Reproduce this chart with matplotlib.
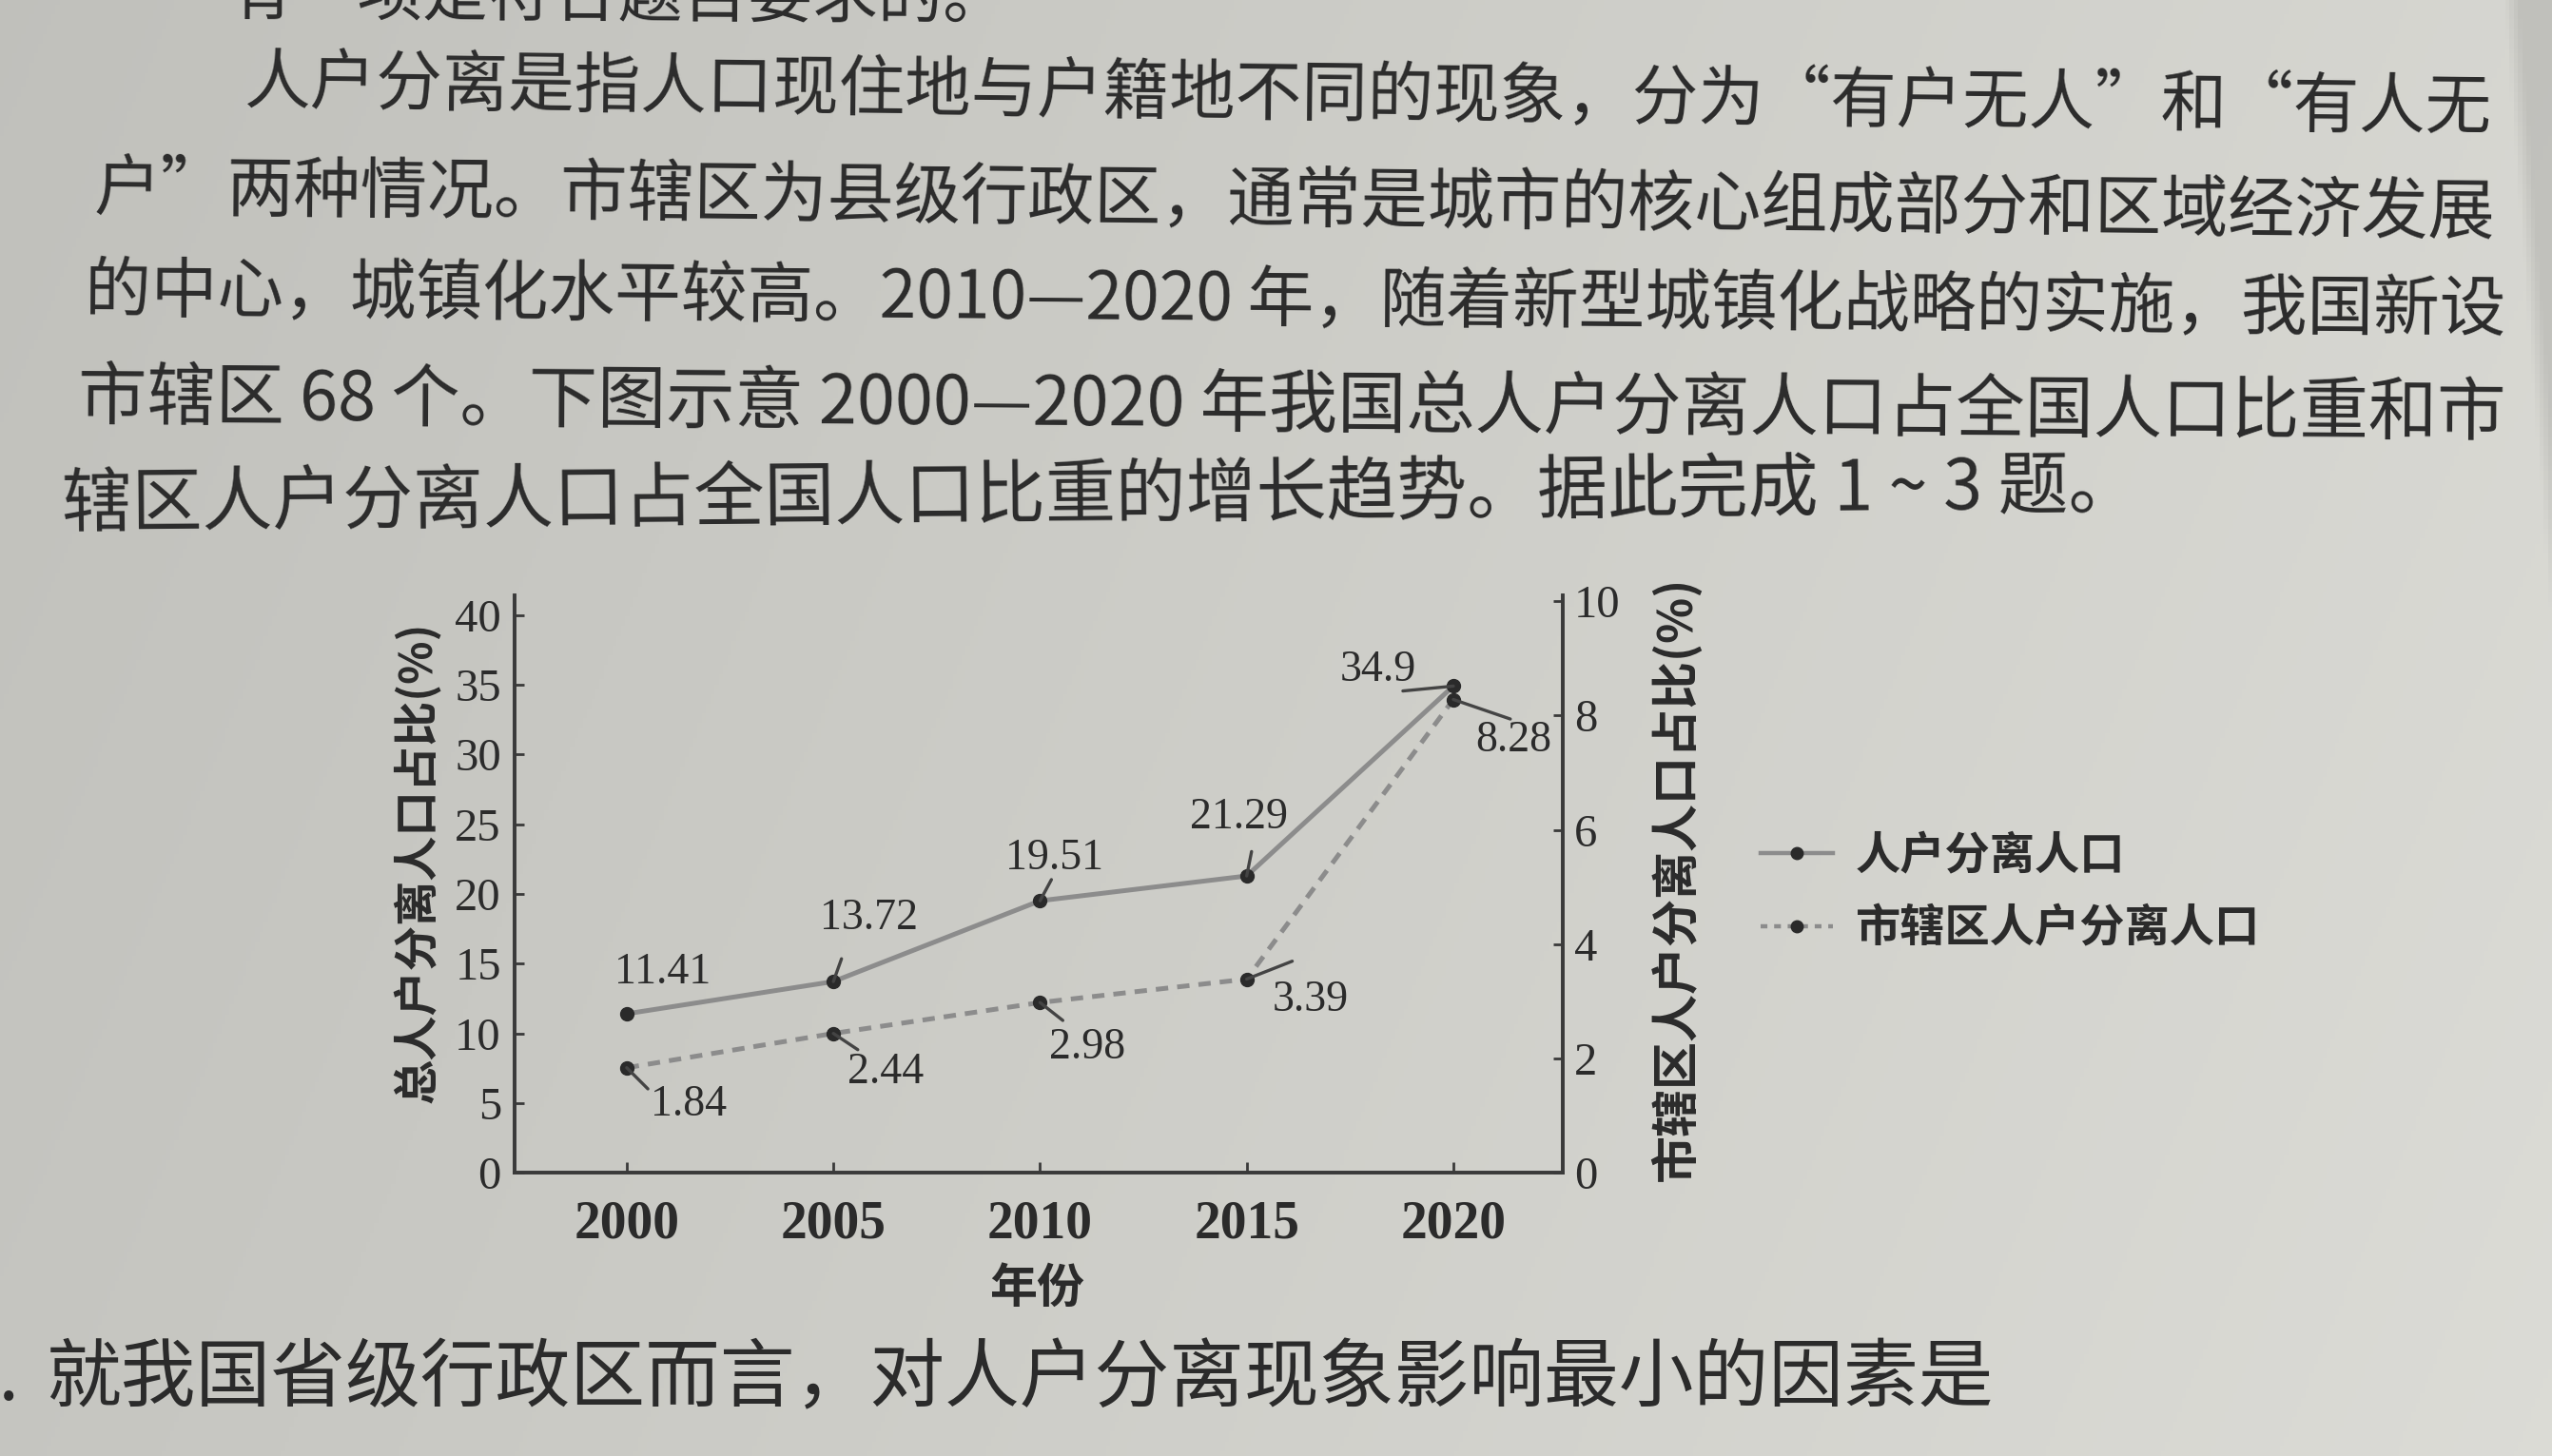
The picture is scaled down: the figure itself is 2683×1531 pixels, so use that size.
import matplotlib
matplotlib.use("Agg")
import matplotlib.pyplot as plt
import numpy as np
from matplotlib.lines import Line2D
from matplotlib.font_manager import FontProperties

# ---------------- data ----------------
years = [2000, 2005, 2010, 2015, 2020]
total_share = [11.41, 13.72, 19.51, 21.29, 34.9]
district_share = [1.84, 2.44, 2.98, 3.39, 8.28]
left_ticks = [0, 5, 10, 15, 20, 25, 30, 35, 40]
right_ticks = [0, 2, 4, 6, 8, 10]
series_names = ["人户分离人口", "市辖区人户分离人口"]
ylabel_left = "总人户分离人口占比(%)"
ylabel_right = "市辖区人户分离人口占比(%)"
xlabel_text = "年份"

header_line = "有一项是符合题目要求的。"
paragraph_lines = [
    "人户分离是指人口现住地与户籍地不同的现象，分为“有户无人”和“有人无",
    "户”两种情况。市辖区为县级行政区，通常是城市的核心组成部分和区域经济发展",
    "的中心，城镇化水平较高。2010—2020 年，随着新型城镇化战略的实施，我国新设",
    "市辖区 68 个。下图示意 2000—2020 年我国总人户分离人口占全国人口比重和市",
    "辖区人户分离人口占全国人口比重的增长趋势。据此完成 1 ~ 3 题。",
]
question_num = "2."
question_text = "就我国省级行政区而言，对人户分离现象影响最小的因素是"

# ---------------- layout helpers (reference displayed at 1568x895) ----------------
W, H = 2683, 1531
DW, DH = 1568.0, 895.0
S = W / DW
PT = S * 72 / 100.0  # displayed px -> points


def D(x, y):
    return (x / DW, 1 - y / DH)


CJK = ["Noto Sans CJK SC", "DejaVu Sans"]
SERIF = ["Liberation Serif", "DejaVu Serif"]
TXT = "#2b2b2b"

fig = plt.figure(figsize=(W / 100, H / 100), dpi=100)

# paper background
bg = fig.add_axes([0, 0, 1, 1], zorder=-10)
gx = np.linspace(0, 1, 600)
gy = np.linspace(0, 1, 300)
GX, GY = np.meshgrid(gx, gy)            # GY = 0 at top
v = 0.755 + 0.085 * GX + 0.02 * GY
edge = 0.982 + 0.018 * (GY / 0.42)      # shadowed page edge, top-right corner
shade = np.clip((GX - edge) / 0.006, 0, 1) * (GY < 0.45)
v = v - 0.085 * shade
img = np.dstack([v, v, v * 0.975])
bg.imshow(img, aspect="auto", extent=[0, 1, 0, 1], origin="upper")
bg.set_axis_off()

renderer = fig.canvas.get_renderer()


def fit_text(x0, y0, s, width_disp, size, rotation=0.0, ha="left", **kw):
    t = fig.text(*D(x0, y0), s, fontsize=size, ha=ha, va="center",
                 family=CJK, color=TXT, **kw)
    w = t.get_window_extent(renderer).width
    t.set_fontsize(size * width_disp * S / w)
    t.set_rotation(rotation)
    t.set_rotation_mode("anchor")
    return t


# text above chart
fit_text(140, -2, header_line, 480, 45, rotation=-0.3)
para_geom = [  # (x_start, y_center, width, rotation)
    (150, 52, 1380, -0.66),
    (58, 117, 1477, -0.58),
    (52, 180, 1488, -0.46),
    (48, 245, 1492, -0.38),
    (38, 311, 1277, 0.5),
]
for s, (x0, y0, w, r) in zip(paragraph_lines, para_geom):
    fit_text(x0, y0, s, w, 45, rotation=r)

# question line
fit_text(28, 848, question_text, 1197, 55)
fig.text(*D(12, 848), question_num, fontsize=55, ha="right", va="center",
         family=CJK, color=TXT)

# ---------------- chart ----------------
ax_l, ax_r, ax_t, ax_b = 316, 960, 366, 721
ax = fig.add_axes([ax_l / DW, 1 - ax_b / DH, (ax_r - ax_l) / DW, (ax_b - ax_t) / DH])
ax.patch.set_alpha(0)
ax2 = ax.twinx()

LINE_C = "#8c8c8c"
MARK_C = "#2a2a2a"
SPINE_C = "#3a3a3a"

ax.plot(years, total_share, color=LINE_C, lw=3.6, marker="o", ms=10,
        mfc=MARK_C, mec=MARK_C, solid_capstyle="round", zorder=3)
ax2.plot(years, district_share, color=LINE_C, lw=3.6, ls=(0, (2.6, 1.9)),
         marker="o", ms=10, mfc=MARK_C, mec=MARK_C, zorder=3)

ax.set_xlim(1997.28, 2022.64)
ax.set_ylim(0, 41.4)
ax2.set_ylim(0, 10.1)
ax.set_xticks(years)
ax.set_yticks(left_ticks)
ax2.set_yticks(right_ticks)

for a in (ax, ax2):
    a.spines["top"].set_visible(False)
    for sp in ("left", "right", "bottom"):
        a.spines[sp].set_color(SPINE_C)
        a.spines[sp].set_linewidth(2.6)

ax.tick_params(axis="y", direction="in", length=7, width=2, pad=10,
               labelsize=35, colors=SPINE_C, labelcolor=TXT)
ax.tick_params(axis="x", direction="in", length=8, width=2, pad=20,
               labelsize=40, colors=SPINE_C, labelcolor=TXT)
ax2.tick_params(axis="y", direction="in", length=7, width=2, pad=9,
                labelsize=35, colors=SPINE_C, labelcolor=TXT)
for lab in ax.get_yticklabels() + ax2.get_yticklabels():
    lab.set_family(SERIF)
for lab in ax.get_xticklabels():
    lab.set_family(SERIF)
    lab.set_fontweight("bold")

# axis labels
ax.set_ylabel(ylabel_left, family=CJK, fontsize=34, fontweight="bold",
              color=TXT, va="center")
ax.yaxis.set_label_coords((256 - ax_l) / (ax_r - ax_l), (ax_b - 530) / (ax_b - ax_t))
ax2.set_ylabel(ylabel_right, family=CJK, fontsize=36, fontweight="bold",
               color=TXT, rotation=90, va="center")
ax2.yaxis.set_label_coords((1030 - ax_l) / (ax_r - ax_l), (ax_b - 540) / (ax_b - ax_t))
ax.set_xlabel(xlabel_text, family=CJK, fontsize=36, fontweight="bold", color=TXT)
ax.xaxis.set_label_coords((637 - ax_l) / (ax_r - ax_l), (ax_b - 792) / (ax_b - ax_t))
ax.xaxis.label.set_va("center")

# value labels (offsets in displayed px, y downward) and leader lines
solid_label_off = [(22, -25), (22, -39), (9, -26), (-5, -36), (-46, -10)]
solid_leader = [None, (5, -14), (7, -13), (3, -15), (-31, 3)]
dash_label_off = [(38, 23), (32, 24), (29, 28), (39, 13), (37, 25)]
dash_leader = [(13, 13), (15, 10), (14, 11), (28, -11), (35, 12)]


def label_series(a, xs, ys, offs, leaders):
    for x, y, off, ld in zip(xs, ys, offs, leaders):
        a.annotate(f"{y:g}", xy=(x, y), xytext=(off[0] * PT, -off[1] * PT),
                   textcoords="offset points", ha="center", va="center",
                   fontsize=33, family=SERIF, color=TXT, zorder=5)
        if ld is not None:
            a.annotate("", xy=(x, y), xytext=(ld[0] * PT, -ld[1] * PT),
                       textcoords="offset points",
                       arrowprops=dict(arrowstyle="-", color="#444444", lw=2.4,
                                       shrinkA=0, shrinkB=0), zorder=4)


label_series(ax, years, total_share, solid_label_off, solid_leader)
label_series(ax2, years, district_share, dash_label_off, dash_leader)

# legend
handles = [
    Line2D([], [], color=LINE_C, lw=3.2, marker="o", ms=9, mfc=MARK_C, mec=MARK_C),
    Line2D([], [], color=LINE_C, lw=3.2, ls=(0, (1.6, 1.6)), marker="o", ms=9,
           mfc=MARK_C, mec=MARK_C),
]
fig.legend(handles, series_names, loc="upper left", bbox_to_anchor=D(1082, 512),
           frameon=False, borderpad=0, borderaxespad=0, handlelength=1.6,
           handletextpad=0.5, labelspacing=0.6, numpoints=1,
           prop=FontProperties(family=CJK, size=34, weight="bold"),
           labelcolor=TXT)

fig.savefig("out.png", dpi=100)
